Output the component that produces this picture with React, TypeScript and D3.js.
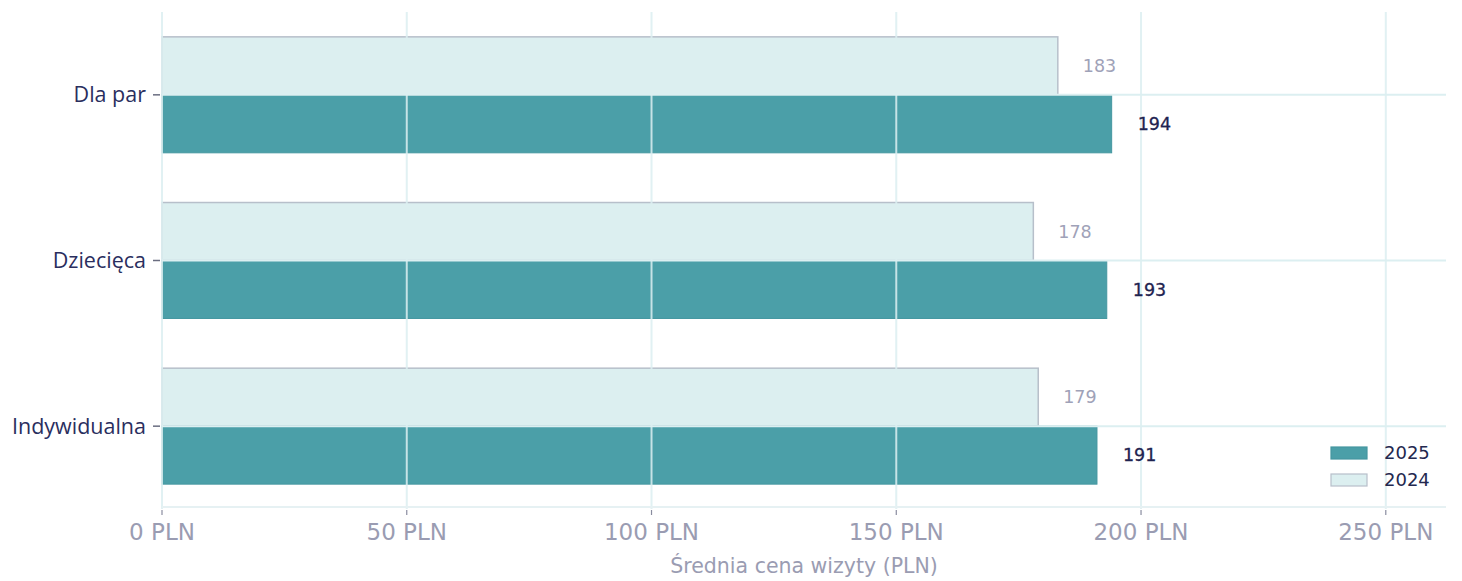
import React from "react";
import * as d3 from "d3";

const categories = ["Dla par", "Dziecięca", "Indywidualna"];
const values2024 = [183, 178, 179];
const values2025 = [194, 193, 191];
const xTicks = [0, 50, 100, 150, 200, 250];
const seriesNames = ["2025", "2024"];

const W = 1462;
const H = 581;
const M = { left: 162, right: 16, top: 12, bottom: 72 };

export default function App() {
  const x = d3.scaleLinear().domain([0, 262.3]).range([M.left, W - M.right]);
  const y = d3
    .scaleBand<string>()
    .domain(categories)
    .range([M.top, H - M.bottom])
    .paddingInner(0.3)
    .paddingOuter(0.15);
  const bw = y.bandwidth() / 2;
  const plotBottom = H - M.bottom;
  const grid = "#dcefF1";
  const font = "'DejaVu Sans', sans-serif";
  const catFont = "'Open Sans', 'Noto Sans', sans-serif";

  return (
    <svg width={W} height={H} style={{ position: "absolute", left: 0, top: 0, background: "#fff" }}>
      {/* bars */}
      {categories.map((c, i) => {
        const y0 = y(c)!;
        return (
          <g key={c}>
            <rect x={x(0)} y={y0} width={x(values2024[i]) - x(0)} height={bw} fill="#dceff0" stroke="#b7bfca" strokeWidth={1.5} />
            <rect x={x(0)} y={y0 + bw} width={x(values2025[i]) - x(0)} height={bw} fill="#4b9fa8" stroke="#4597a0" strokeWidth={1} />
          </g>
        );
      })}
      {/* vertical grid */}
      {xTicks.map((t) => (
        <line key={t} x1={x(t)} x2={x(t)} y1={M.top} y2={plotBottom} stroke={grid} strokeWidth={2} opacity={0.85} />
      ))}
      {/* horizontal grid at category centers */}
      {categories.map((c) => {
        const yc = y(c)! + bw;
        return <line key={c} x1={x(0)} x2={W - M.right} y1={yc} y2={yc} stroke={grid} strokeWidth={2} />;
      })}
      <line x1={x(0)} x2={W - M.right} y1={plotBottom - 2} y2={plotBottom - 2} stroke="#e6f1f3" strokeWidth={2} />
      {/* value labels */}
      {categories.map((c, i) => {
        const y0 = y(c)!;
        return (
          <g key={c}>
            <text x={x(values2024[i]) + 25} y={y0 + bw / 2} dy="0.35em" fontSize={17.5} fill="#9fa2b8" fontFamily={font}>
              {values2024[i]}
            </text>
            <text x={x(values2025[i]) + 26} y={y0 + bw * 1.5} dy="0.35em" fontSize={17.5} fill="#1f2350" fontFamily={font} stroke="#1f2350" strokeWidth={0.3}>
              {values2025[i]}
            </text>
          </g>
        );
      })}
      {/* y axis labels */}
      {categories.map((c) => {
        const yc = y(c)! + bw;
        return (
          <g key={c}>
            <line x1={x(0) - 9} x2={x(0) - 2} y1={yc} y2={yc} stroke="#6a6d80" strokeWidth={1.5} />
            <text x={x(0) - 16} y={yc} dy="0.35em" textAnchor="end" fontSize={21.5} fill="#2a2e5e" fontFamily={catFont} fontWeight={500}>
              {c}
            </text>
          </g>
        );
      })}
      {/* x axis ticks */}
      {xTicks.map((t) => (
        <g key={t}>
          <line x1={x(t)} x2={x(t)} y1={plotBottom + 1} y2={plotBottom + 6} stroke="#8a8da0" strokeWidth={1.2} />
          <text x={x(t)} y={plotBottom + 23} dy="0.35em" textAnchor="middle" fontSize={23} fill="#9a9cb2" fontFamily={font}>
            {t} PLN
          </text>
        </g>
      ))}
      <text x={(x(0) + W - M.right) / 2} y={plotBottom + 57} dy="0.35em" textAnchor="middle" fontSize={20.5} fill="#9a9cb2" fontFamily={font}>
        Średnia cena wizyty (PLN)
      </text>
      {/* legend */}
      {seriesNames.map((s, i) => (
        <g key={s} transform={`translate(1331, ${447 + i * 27})`}>
          <rect width={36} height={12} fill={i === 0 ? "#4b9fa8" : "#dceff0"} stroke={i === 0 ? "#4597a0" : "#b7bfca"} strokeWidth={1.2} />
          <text x={53} y={6} dy="0.35em" fontSize={18} fill="#23284f" fontFamily={font} fontWeight={500}>
            {s}
          </text>
        </g>
      ))}
    </svg>
  );
}
